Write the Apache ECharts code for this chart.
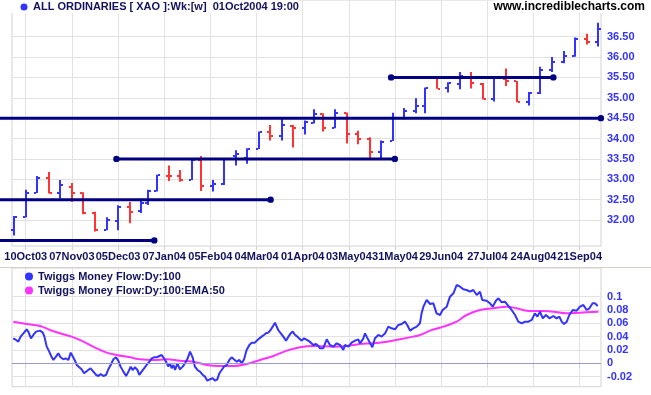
<!DOCTYPE html>
<html><head><meta charset="utf-8">
<script src="https://cdn.jsdelivr.net/npm/echarts@6/dist/echarts.min.js"></script>
<style>html,body{margin:0;padding:0;background:#fff}#c{width:651px;height:395px}</style>
</head><body><div id="c"></div>
<script>
// ---- axis ticks / labels (x measured in trading days from 10Oct03) ----
const xTickDays = [0,20,40,60,80,100,120,140,160,180,200,220,240];
const xTickLabels = ['10Oct03','07Nov03','05Dec03','07Jan04','05Feb04','04Mar04','01Apr04','03May04','31May04','29Jun04','27Jul04','24Aug04','21Sep04'];
const priceTicks = [32,32.5,33,33.5,34,34.5,35,35.5,36,36.5];
const flowTicks = [-0.02,0,0.02,0.04,0.06,0.08,0.1];

// ---- weekly OHLC bars (day index of week's last trading day) ----
const weekDay = [-5,0,5,10,15,20,25,30,35,40,45,50,53,57,62,67,72,76,81,86,91,96,101,106,111,116,121,125,129,134,139,144,149,154,159,164,169,173,178,183,188,193,198,203,208,213,218,223,228,233,238,243,248];
const weekOpen = [31.75,32.08,32.67,33.03,32.67,32.80,32.67,32.17,31.75,31.97,32.32,32.22,32.41,32.71,33.09,33.09,32.98,33.48,32.83,32.88,33.56,33.52,33.74,34.15,34.05,34.31,34.25,34.39,34.60,34.25,34.63,34.10,34.00,33.68,33.94,34.50,34.68,34.81,35.48,35.25,35.33,35.50,35.34,34.96,35.46,35.40,34.90,35.11,35.68,35.87,36.03,36.44,36.36];
const weekHigh = [32.10,32.74,33.08,33.18,32.98,32.91,32.68,32.20,32.07,32.36,32.44,32.53,32.74,33.11,33.34,33.23,33.52,33.57,32.98,33.52,33.71,33.76,34.17,34.33,34.50,34.33,34.44,34.72,34.62,34.72,34.64,34.19,34.03,33.95,34.63,34.75,34.99,35.25,35.49,35.38,35.63,35.63,35.36,35.52,35.72,35.41,35.14,35.76,36.00,36.15,36.48,36.57,36.84];
const weekLow = [31.62,32.06,32.66,32.65,32.52,32.45,32.14,31.72,31.75,31.75,31.92,32.17,32.37,32.70,32.96,32.94,32.98,32.71,32.70,32.86,33.34,33.38,33.74,33.95,33.95,33.78,34.10,34.37,34.17,34.25,33.88,33.86,33.50,33.49,33.94,34.47,34.62,34.62,35.22,35.13,35.21,35.23,34.96,34.91,35.29,34.89,34.81,35.09,35.63,35.85,36.01,36.31,36.26];
const weekClose = [32.08,32.67,33.03,32.67,32.85,32.67,32.17,31.75,31.99,32.32,32.20,32.42,32.71,33.10,33.07,32.98,33.48,32.83,32.88,33.50,33.61,33.74,34.15,34.05,34.32,34.25,34.41,34.60,34.25,34.63,34.10,33.99,33.68,33.92,34.50,34.68,34.81,35.23,35.22,35.36,35.54,35.36,34.98,35.48,35.40,34.90,35.11,35.68,35.87,36.03,36.44,36.38,36.70];

// ---- support / resistance lines ----
const levelValue = [34.5, 32.5, 31.5, 33.5, 35.5];
const levelFrom  = [-11.2, -11.2, -11.2, 39.3, 158.3];
const levelTo    = [249.2, 106.1, 55.7, 159.9, 228.6];

// ---- Twiggs Money Flow (daily) ----
const mfDay = [-5.4,-4.2,-3.2,-2.2,-1,0.4,1.1,2.3,3.3,4.5,
5,6.2,7.4,8.1,9.1,10.2,11.3,12,13.1,14.1,
15.1,16.3,17.3,18.5,19.5,20.3,21.2,22.1,23.2,24.2,
25.3,26.1,27.1,28.1,29.3,30.5,31.5,32.5,33.6,34.8,
35.8,36.8,38,39.1,40.1,41.1,42.3,43.5,44.5,45.5,
46.3,47.4,48.4,49.2,50.2,51.3,52.4,53.6,54.6,55.6,
56.7,57.9,58.9,59.9,60.8,61.8,62.5,63.2,64,64.7,
65.7,66.8,68,69,70,71.2,72.3,73.3,74.4,75.5,
76.7,77.7,78.7,79.8,81,82,83,83.9,84.9,85.9,
87.1,88.2,89.2,90.2,91.4,92.6,93.6,94.6,95.7,96.9,
97.9,99.3,100.4,101.2,102.2,103.2,104.1,105.1,106.1,107,
108,108.7,109.4,110.5,111.6,112.8,113.8,114.8,115.7,116.7,
117.7,118.5,119.6,120.6,121.4,122.4,123.5,124.6,125.8,126.8,
127.5,128.9,130.4,131.8,133.3,134.7,136.2,137.6,138.3,139.8,
141.2,142.7,144.1,144.8,146.3,147,147.7,149.2,150.2,151.3,
152.8,154.2,155.7,157.1,158.5,160,161.4,162.9,164.3,165.3,
166.5,167.9,169.4,170.8,171.5,172.3,173.7,175.2,176.6,178,
179.5,180.6,182.4,183.8,185.3,186.7,188.2,189.6,191,192.5,
193.9,195.4,196.8,197.8,199.7,201.1,202.3,203.7,204.8,206.2,
207.6,209.1,210.5,212,213.4,214.9,216.3,217.8,219.2,220.6,
221.7,222.8,224,225.4,226.9,228.6,230,231.2,232.2,233.2,
234.4,235.5,237,238.7,240.1,241.6,243,244.2,245.6,246.6,
247.8];
const mfVal = [0.0375,0.035,0.0325,0.04,0.045,0.051,0.0475,0.0375,0.0425,0.0475,
0.045,0.049,0.046,0.04,0.025,0.0175,0.009,0.005,0.01,0.015,
0.009,0.006,0.0075,0.005,0.016,0.015,0.005,-0.0025,-0.006,-0.009,
-0.015,-0.0175,-0.01,-0.0075,-0.0125,-0.0175,-0.019,-0.016,-0.019,-0.0175,
-0.009,-0.0025,0.006,0.009,0.004,-0.005,-0.0125,-0.019,-0.0125,-0.005,
-0.01,-0.006,-0.01,-0.0175,-0.0125,-0.0075,-0.0025,0.0025,0.0075,0.009,
0.009,0.011,0.0125,0.0075,0.0025,-0.005,0,-0.0075,-0.0025,-0.01,
0,-0.009,-0.005,0,0.006,0.0175,0.009,-0.005,-0.01,-0.0125,
-0.0175,-0.02,-0.026,-0.024,-0.0225,-0.026,-0.024,-0.015,-0.01,-0.005,
-0.0025,0.005,0.009,0.006,0.0025,0.005,0,0.006,0.02,0.0275,
0.031,0.031,0.035,0.0375,0.04,0.0425,0.045,0.046,0.05,0.055,
0.061,0.06,0.05,0.045,0.04,0.034,0.04,0.045,0.0475,0.0425,
0.04,0.0375,0.034,0.0375,0.036,0.034,0.031,0.0275,0.029,0.026,
0.0225,0.0225,0.036,0.0275,0.025,0.03,0.0275,0.02,0.0275,0.025,
0.031,0.034,0.036,0.03,0.0375,0.045,0.04,0.03,0.024,0.0375,
0.0425,0.04,0.045,0.055,0.0525,0.051,0.0575,0.059,0.0625,0.0575,
0.049,0.0525,0.055,0.06,0.075,0.085,0.095,0.089,0.09,0.075,
0.0725,0.08,0.085,0.1,0.105,0.1175,0.115,0.111,0.11,0.1075,
0.11,0.1025,0.1075,0.095,0.094,0.09,0.085,0.094,0.0975,0.0915,
0.0925,0.086,0.08,0.0725,0.0625,0.06,0.0625,0.0625,0.065,0.075,
0.07,0.0775,0.0675,0.0725,0.0675,0.071,0.0675,0.07,0.0625,0.059,
0.0625,0.0725,0.08,0.079,0.085,0.0875,0.08,0.0825,0.09,0.09,
0.086];

// ---- EMA 50 of money flow ----
const emaDay = [-5.35,0.4,6.2,10.5,14.9,19.9,25,30.7,35.1,39.4,45.2,49.5,55.3,61.1,66.8,72.6,78.4,84.2,90,95.7,101.5,107.3,113.1,118.8,124.6,133.3,139.1,144.8,150.6,156.4,162.2,167.9,170.8,175.2,180.9,186.7,191,196.8,202.6,208.4,212.7,217,222.8,228.6,234.4,240.1,248.1];
const emaVal = [0.0625,0.059,0.056,0.05,0.045,0.04,0.0325,0.0225,0.016,0.0125,0.009,0.006,0.005,0.006,0.004,0.0025,-0.0025,-0.004,-0.004,-0.001,0.005,0.011,0.019,0.024,0.026,0.025,0.026,0.029,0.03,0.0325,0.036,0.04,0.0425,0.049,0.055,0.0625,0.0725,0.08,0.0825,0.085,0.0825,0.079,0.0785,0.0775,0.075,0.076,0.0775];

const titleText = 'ALL ORDINARIES [ XAO ]:Wk:[w]  01Oct2004 19:00';
const siteText = 'www.incrediblecharts.com';
const mfName = 'Twiggs Money Flow:Dy:100';
const emaName = 'Twiggs Money Flow:Dy:100:EMA:50';

const FONT = "'Liberation Sans', Arial, sans-serif";
const BLUE = '#3333ff', RED = '#ff3333', NAVY = '#000080', TXT = '#12125e';
const PINK = '#ff33ff', GRID = '#e2e2e2', BORDER = '#d2d2d2';

const ohlc = weekDay.map((d, i) => [d, weekOpen[i], weekHigh[i], weekLow[i], weekClose[i]]);
const levels = levelValue.map((v, i) => [levelFrom[i], levelTo[i], v]);
const mfData = mfDay.map((d, i) => [d, mfVal[i]]).filter(p => p[1] !== undefined);
const emaData = emaDay.map((d, i) => [d, emaVal[i]]).filter(p => p[1] !== undefined);

const XMIN = -5.94, XMAX = 249.23;

function xAxisCfg(grid, showLabels, tickLen) {
  return {
    gridIndex: grid, type: 'value', min: XMIN, max: XMAX,
    axisLine: { show: false },
    axisTick: { show: true, length: tickLen, customValues: xTickDays, lineStyle: { color: BORDER } },
    axisLabel: {
      show: showLabels, customValues: xTickDays,
      formatter: v => xTickLabels[xTickDays.indexOf(Math.round(v))] || '',
      color: TXT, fontWeight: 'bold', fontSize: 11, fontFamily: FONT, margin: 5
    },
    splitLine: { show: true, lineStyle: { color: GRID, width: 1 } }
  };
}

const option = {
  animation: false,
  backgroundColor: '#ffffff',
  grid: [
    { left: 12, width: 589, top: 0, height: 246, show: true, borderColor: BORDER, borderWidth: 1 },
    { left: 12, width: 589, top: 268, height: 118.7, show: true, borderColor: BORDER, borderWidth: 1 }
  ],
  xAxis: [xAxisCfg(0, true, 4), xAxisCfg(1, false, 5)],
  yAxis: [
    {
      gridIndex: 0, type: 'value', position: 'right', min: 31.362, max: 37.40,
      axisLine: { show: false },
      axisTick: { show: false, customValues: priceTicks },
      axisLabel: { customValues: priceTicks, formatter: v => Number(v).toFixed(2), color: BLUE, fontWeight: 'bold', fontSize: 11, fontFamily: FONT, margin: 6 },
      splitLine: { show: true, lineStyle: { color: GRID, width: 1 } }
    },
    {
      gridIndex: 1, type: 'value', position: 'right', min: -0.0351, max: 0.1430,
      axisLine: { show: false },
      axisTick: { show: false, customValues: flowTicks },
      axisLabel: { customValues: flowTicks, formatter: v => String(Math.round(v * 100) / 100), color: BLUE, fontWeight: 'bold', fontSize: 11, fontFamily: FONT, margin: 6 },
      splitLine: { show: true, lineStyle: { color: GRID, width: 1 } }
    }
  ],
  legend: {
    show: true, orient: 'vertical', left: 20, top: 266, itemWidth: 8, itemHeight: 8, itemGap: 3,
    icon: 'circle', selectedMode: false,
    data: [{ name: mfName, itemStyle: { color: BLUE } }, { name: emaName, itemStyle: { color: PINK } }],
    textStyle: { color: TXT, fontWeight: 'bold', fontSize: 11, fontFamily: FONT }
  },
  series: [
    {
      type: 'custom', xAxisIndex: 0, yAxisIndex: 0, z: 3, silent: true,
      data: ohlc,
      encode: { x: 0, y: [1, 2, 3, 4] },
      renderItem: function (params, api) {
        const x = api.value(0), o = api.value(1), h = api.value(2), l = api.value(3), c = api.value(4);
        const pH = api.coord([x, h]), pL = api.coord([x, l]), pO = api.coord([x, o]), pC = api.coord([x, c]);
        const col = c >= o ? BLUE : RED;
        const px = Math.round(pH[0]);
        return {
          type: 'group', children: [
            { type: 'rect', shape: { x: px - 1, y: pH[1], width: 2, height: Math.max(1, pL[1] - pH[1]) }, style: { fill: col } },
            { type: 'rect', shape: { x: px - 3, y: Math.round(pO[1]) - 1, width: 2, height: 2 }, style: { fill: col } },
            { type: 'rect', shape: { x: px + 1, y: Math.round(pC[1]) - 1, width: 2, height: 2 }, style: { fill: col } }
          ]
        };
      }
    },
    {
      type: 'custom', xAxisIndex: 0, yAxisIndex: 0, z: 5, silent: true, clip: false,
      data: levels,
      encode: { x: [0, 1], y: 2 },
      renderItem: function (params, api) {
        const a = api.value(0), b = api.value(1), v = api.value(2);
        const p1 = api.coord([a, v]), p2 = api.coord([b, v]);
        const children = [
          { type: 'line', shape: { x1: p1[0], y1: p1[1], x2: p2[0], y2: p2[1] }, style: { stroke: NAVY, lineWidth: 3 } },
          { type: 'circle', shape: { cx: p2[0], cy: p2[1], r: 3.2 }, style: { fill: NAVY } }
        ];
        if (a >= XMIN) children.push({ type: 'circle', shape: { cx: p1[0], cy: p1[1], r: 3.2 }, style: { fill: NAVY } });
        return { type: 'group', children: children };
      }
    },
    {
      name: emaName, type: 'line', xAxisIndex: 1, yAxisIndex: 1, data: emaData,
      showSymbol: false, symbol: 'none', smooth: 0.4, silent: true,
      lineStyle: { color: PINK, width: 2 }, itemStyle: { color: PINK }, z: 3
    },
    {
      name: mfName, type: 'line', xAxisIndex: 1, yAxisIndex: 1, data: mfData,
      showSymbol: false, symbol: 'none', silent: true,
      lineStyle: { color: BLUE, width: 2 }, itemStyle: { color: BLUE }, z: 4,
      markLine: {
        silent: true, symbol: 'none', label: { show: false },
        lineStyle: { color: '#9a9ad2', width: 1, type: 'solid' },
        data: [{ yAxis: 0 }]
      }
    }
  ],
  graphic: [
    { type: 'rect', shape: { x: 10, y: 0, width: 288, height: 13 }, style: { fill: '#fff' }, z: 50 },
    { type: 'rect', shape: { x: 494, y: 0, width: 157, height: 13 }, style: { fill: '#fff' }, z: 50 },
    { type: 'circle', shape: { cx: 24, cy: 7, r: 3.5 }, style: { fill: BLUE }, z: 51 },
    { type: 'text', x: 33, y: 7, style: { text: titleText, fill: TXT, font: "bold 11px " + FONT, textVerticalAlign: 'middle', verticalAlign: 'middle' }, z: 51 },
    { type: 'text', x: 645, y: 7, style: { text: siteText, fill: '#000', font: "bold 12px " + FONT, align: 'right', textAlign: 'right', verticalAlign: 'middle', textVerticalAlign: 'middle' }, z: 51 },
    { type: 'line', shape: { x1: 0, y1: 267.5, x2: 651, y2: 267.5 }, style: { stroke: '#d4d0c8', lineWidth: 1 }, z: 49 }
  ]
};

const chart = echarts.init(document.getElementById('c'), null, { renderer: 'canvas' });
chart.setOption(option);
</script>
</body></html>
